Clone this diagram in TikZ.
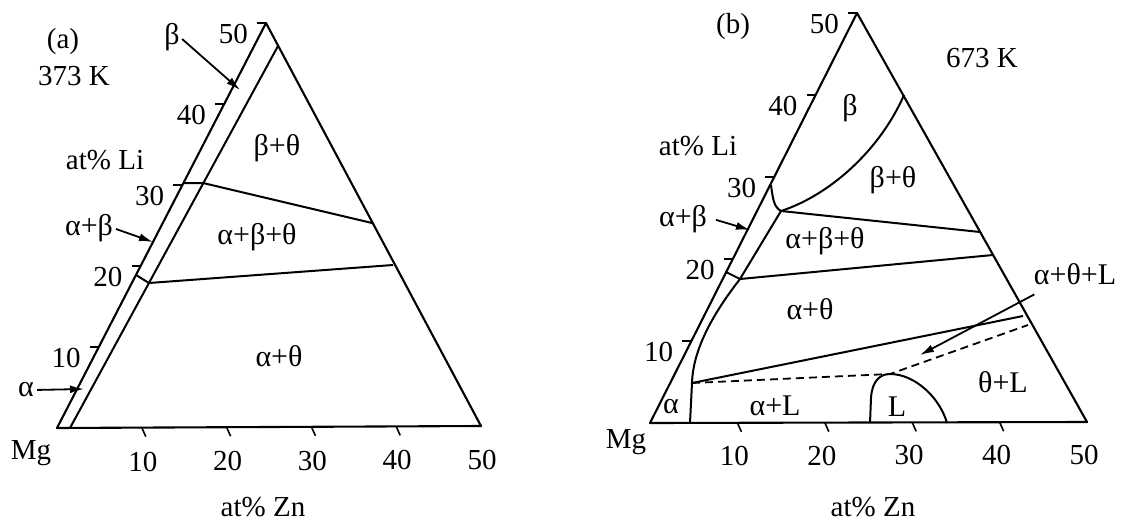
\documentclass[tikz,border=0pt]{standalone}
\usepackage{fontspec}
\setmainfont{Liberation Serif}
\usepackage{tikz}
\usetikzlibrary{calc,arrows.meta}

\begin{document}
\begin{tikzpicture}[
  x=1pt, y=-1pt,
  every node/.style={font=\fontsize{29}{32}\selectfont,inner sep=0pt},
  frame/.style={line width=2.1pt,line join=round},
  bound/.style={line width=2pt},
  liq/.style={line width=1.8pt,dash pattern=on 8pt off 5pt},
  tick/.style={line width=1.6pt},
  pointer/.style={line width=1.8pt,shorten <=3pt,-{Latex[length=14pt,width=8pt]}},
  phase/.style={font=\fontsize{30}{33}\selectfont}
]
\useasboundingbox (0,0) rectangle (1126,524);

% (a) 373 K
\coordinate (aMg) at (57,428);
\coordinate (aZn) at (481,426);
\coordinate (aLi) at (266,23);
\coordinate (aI0) at (70,428);
\coordinate (aI1) at (278,46);
\coordinate (aB30) at (184,183);
\coordinate (aA30) at (203,183);
\coordinate (aT30) at (372,223);
\coordinate (aB20) at (136,275);
\coordinate (aA20) at (149,283);
\coordinate (aT20) at (393,265);

\draw[frame] (aMg) -- (aLi) -- (aZn) -- cycle;
\draw[bound] (aI0) -- (aI1);
\draw[bound] (aB30) -- (aA30) -- (aT30);
\draw[bound] (aB20) -- (aA20) -- (aT20);

\foreach \v in {10,20,30,40,50} {
  \draw[tick] ($(aMg)!\v/50!(aLi)$) -- ++(-9,0);
  \node[anchor=north east] at ($(aMg)!\v/50!(aLi)+(-18,1)$) {\v};
}
\foreach \v in {10,20,30,40}
  \draw[tick] ($(aMg)!\v/50!(aZn)$) -- ++(4,9);
\foreach \v in {10,20,30,40,50}
  \node[anchor=north] at ($(aMg)!\v/50!(aZn)+(1,24)$) {\v};

\node (aTag) at (63,42) {(a)};
\node (aTemp) at (74,76) {373 K};
\node (aLiAx) at (105,160) {at\% Li};
\node (aMgL) at (31,453) {Mg};
\node (aZnAx) at (263,507) {at\% Zn};

\node[phase] (aBT) at (277,148) {β+θ};
\node[phase] (aABT) at (257,237) {α+β+θ};
\node[phase] (aAT) at (279,356) {α+θ};

\node[phase] (aBeta) at (172,37) {β};
\coordinate (aBetaTip) at (240,90);
\draw[pointer] (aBeta.east) -- (aBetaTip);
\node[phase] (aAB) at (89,228) {α+β};
\coordinate (aABTip) at (153,242);
\draw[pointer] (aAB.east) -- (aABTip);
\node[phase] (aAlpha) at (26,390) {α};
\coordinate (aAlphaTip) at (84,389);
\draw[pointer] (aAlpha.east) -- (aAlphaTip);

% (b) 673 K
\coordinate (bMg) at (650,423);
\coordinate (bZn) at (1087,422);
\coordinate (bLi) at (857,13);
\coordinate (bB30) at (771,185);
\coordinate (bTri) at (781,211);
\coordinate (bBT) at (904,95);
\coordinate (bT30) at (980,232);
\coordinate (bB20) at (726,272);
\coordinate (bA20) at (740,279);
\coordinate (bT20) at (993,255);
\coordinate (bAL) at (692,383);
\coordinate (bA0) at (690,423);
\coordinate (bTh) at (1023,316);
\coordinate (bLtop) at (890,374);
\coordinate (bThL) at (1028,325);
\coordinate (bL0) at (870,423);
\coordinate (bL1) at (947,423);

\draw[frame] (bMg) -- (bLi) -- (bZn) -- cycle;
\draw[bound] (bB30) .. controls (773,200) and (774,207) .. (bTri);
\draw[bound] (bTri) .. controls (830,195) and (880,150) .. (bBT);
\draw[bound] (bTri) -- (bT30);
\draw[bound] (bB20) -- (bA20) -- (bT20);
\draw[bound] (bTri) -- (bA20) .. controls (712,315) and (693,350) .. (bAL) -- (bA0);
\draw[bound] (bAL) -- (bTh);
\draw[liq] (bAL) -- (bLtop) -- (bThL);
\draw[bound] (bL0) -- (871,398) .. controls (872,381) and (880,374) .. (bLtop)
  .. controls (915,374) and (940,398) .. (bL1);

\foreach \v in {10,20,30,40,50} {
  \draw[tick] ($(bMg)!\v/50!(bLi)$) -- ++(-9,0);
  \node[anchor=north east] at ($(bMg)!\v/50!(bLi)+(-18,1)$) {\v};
}
\foreach \v in {10,20,30,40}
  \draw[tick] ($(bMg)!\v/50!(bZn)$) -- ++(4,9);
\foreach \v in {10,20,30,40,50}
  \node[anchor=north] at ($(bMg)!\v/50!(bZn)+(-3,23)$) {\v};

\node (bTag) at (733,27) {(b)};
\node (bTemp) at (982,58) {673 K};
\node (bLiAx) at (698,146) {at\% Li};
\node (bMgL) at (626,442) {Mg};
\node (bZnAx) at (873,507) {at\% Zn};

\node[phase] (bBeta) at (850,108) {β};
\node[phase] (bBT) at (893,180) {β+θ};
\node[phase] (bABT) at (825,241) {α+β+θ};
\node[phase] (bAT) at (810,309) {α+θ};
\node[phase] (bALq) at (775,406) {α+L};
\node[phase] (bLq) at (897,407) {L};
\node[phase] (bTL) at (1003,382) {θ+L};
\node[phase] (bAlpha) at (671,407) {α};

\node[phase] (bAB) at (683,219) {α+β};
\coordinate (bABTip) at (750,230);
\draw[pointer] ([xshift=6pt]bAB.east) -- (bABTip);
\node[phase] (bATL) at (1075,274) {α+θ+L};
\coordinate (bATLTail) at (1037,293);
\coordinate (bATLTip) at (920,355);
\draw[pointer] (bATLTail) -- (bATLTip);
\end{tikzpicture}
\end{document}
